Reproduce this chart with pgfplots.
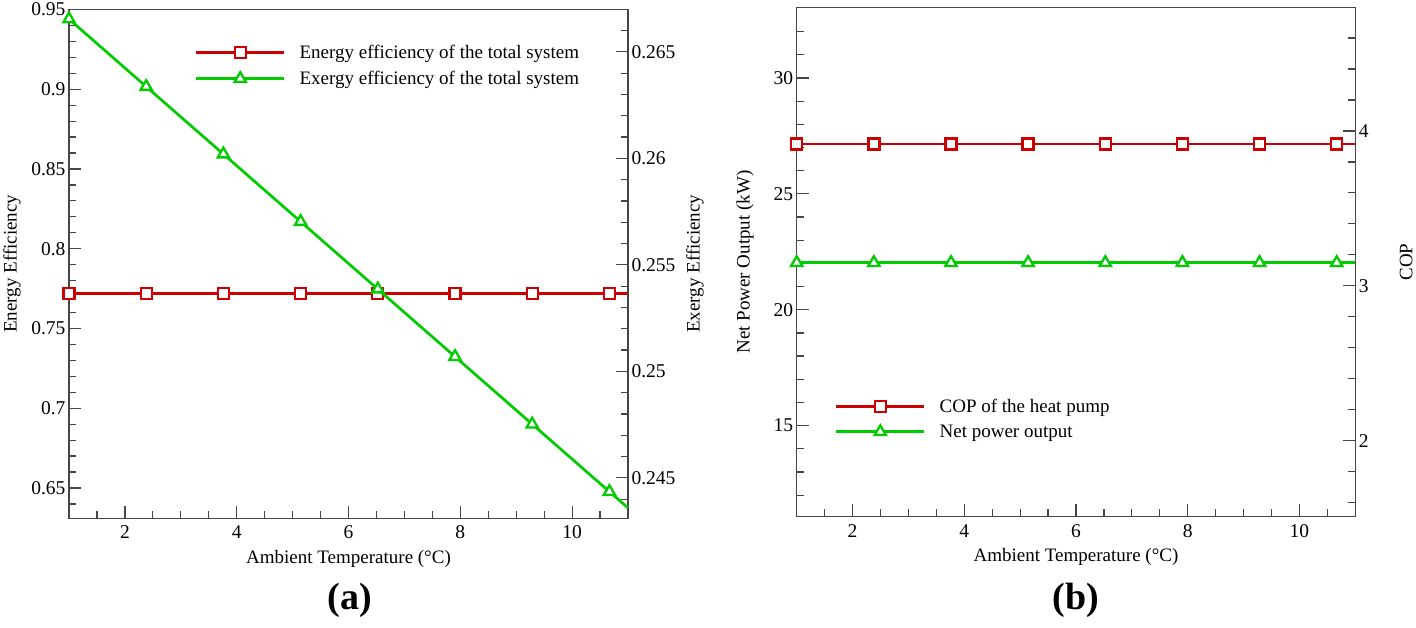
\documentclass[border=0pt]{standalone}
\usepackage{fontspec}
\setmainfont{Liberation Serif}
\usepackage{pgfplots}
\pgfplotsset{compat=1.18}
\definecolor{cred}{RGB}{204,0,0}
\definecolor{cgreen}{RGB}{0,204,0}
\definecolor{axc}{RGB}{70,70,70}
\pgfplotsset{
  common/.style={
    scale only axis, anchor=south west, clip=false,
    xmin=1, xmax=11,
    xtick={2,4,6,8,10},
    minor xtick={1.5,2.5,3,3.5,4.5,5,5.5,6.5,7,7.5,8.5,9,9.5,10.5},
    tick align=inside,
    axis line style={axc, line width=1.4pt},
    every tick/.style={axc, line width=1.2pt},
    major tick length=12.5pt, minor tick length=7.5pt,
    tick label style={font=\fontsize{19.5}{22}\selectfont},
    xticklabel style={yshift=-4pt},
    /pgf/number format/assume math mode=true,
    label style={font=\fontsize{19}{22}\selectfont},
    legend cell align=left,
    legend image code/.code={\draw[mark repeat=2,mark phase=2,##1] plot coordinates {(0pt,0pt) (44pt,0pt) (88pt,0pt)};},
  },
  redline/.style={color=cred, line width=2.7pt, mark=square*, mark options={fill=white, line width=2.3pt, solid}, mark size=5.5pt},
  greenline/.style={color=cgreen, line width=2.7pt, mark=triangle*, mark options={fill=white, line width=2.3pt, solid}, mark size=6.5pt},
}
\begin{document}
\begin{tikzpicture}[x=1pt,y=1pt]
\path[use as bounding box] (0,0) rectangle (1416,627);
% ---------- panel (a) left axis ----------
\begin{axis}[common, at={(69pt,108.7pt)}, width=559pt, height=509pt,
  ymin=0.631, ymax=0.9501,
  ytick={0.65,0.7,0.75,0.8,0.85,0.9,0.95},
  minor ytick={0.64,0.66,0.67,0.68,0.69,0.71,0.72,0.73,0.74,0.76,0.77,0.78,0.79,0.81,0.82,0.83,0.84,0.86,0.87,0.88,0.89,0.91,0.92,0.93,0.94},
  xtick pos=bottom, ytick pos=left,
  xlabel={Ambient Temperature (°C)}, ylabel={Energy Efficiency},
  xlabel style={at={(axis description cs:0.5,-0.079)}, anchor=center},
  ylabel style={at={(axis description cs:-0.102,0.5)}, anchor=center},
]
\addplot[redline, mark indices={1,2,3,4,5,6,7,8}, forget plot] coordinates {
(1,0.772) (2.381,0.772) (3.762,0.772) (5.143,0.772) (6.524,0.772) (7.905,0.772) (9.286,0.772) (10.667,0.772) (11,0.772)};
\end{axis}
% ---------- panel (a) right axis ----------
\begin{axis}[common, at={(69pt,108.7pt)}, width=559pt, height=509pt,
  axis x line=none, axis y line*=right,
  ymin=0.2431, ymax=0.2670,
  ytick={0.245,0.25,0.255,0.26,0.265},
  minor ytick={0.244,0.246,0.247,0.248,0.249,0.251,0.252,0.253,0.254,0.256,0.257,0.258,0.259,0.261,0.262,0.263,0.264,0.266},
  scaled y ticks=false,
  yticklabel style={/pgf/number format/fixed, /pgf/number format/precision=3},
  ylabel={Exergy Efficiency},
  ylabel style={at={(axis description cs:1.12,0.5)}, anchor=center},
  legend style={at={(axis description cs:0.2252,0.933)}, anchor=north west, draw=none, fill=none,
    inner sep=0pt, outer sep=0pt, font=\fontsize{19}{22}\selectfont, row sep=7pt,
    /tikz/every odd column/.append style={column sep=12pt}},
]
\addplot[greenline, mark indices={1,2,3,4,5,6,7,8}, forget plot] coordinates {
(1,0.26654) (2.381,0.26337) (3.762,0.26020) (5.143,0.25703) (6.524,0.25386) (7.905,0.25069) (9.286,0.24752) (10.667,0.24435) (11,0.24359)};
\addlegendimage{redline}
\addlegendentry{Energy efficiency of the total system}
\addlegendimage{greenline}
\addlegendentry{Exergy efficiency of the total system}
\end{axis}
% ---------- panel (b) left axis ----------
\begin{axis}[common, at={(796.7pt,110.3pt)}, width=558.6pt, height=509.4pt,
  ymin=11.07, ymax=33.05,
  ytick={15,20,25,30},
  minor ytick={12,13,14,16,17,18,19,21,22,23,24,26,27,28,29,31,32},
  xtick pos=bottom, ytick pos=left,
  xlabel={Ambient Temperature (°C)}, ylabel={Net Power Output (kW)},
  xlabel style={at={(axis description cs:0.5,-0.079)}, anchor=center},
  ylabel style={at={(axis description cs:-0.0926,0.5)}, anchor=center},
]
\addplot[greenline, mark indices={1,2,3,4,5,6,7,8}, forget plot] coordinates {
(1,22.03) (2.381,22.03) (3.762,22.03) (5.143,22.03) (6.524,22.03) (7.905,22.03) (9.286,22.03) (10.667,22.03) (11,22.03)};
\end{axis}
% ---------- panel (b) right axis ----------
\begin{axis}[common, at={(796.7pt,110.3pt)}, width=558.6pt, height=509.4pt,
  axis x line=none, axis y line*=right,
  ymin=1.51, ymax=4.798,
  ytick={2,3,4},
  minor ytick={1.6,1.8,2.2,2.4,2.6,2.8,3.2,3.4,3.6,3.8,4.2,4.4,4.6},
  ylabel={COP},
  ylabel style={at={(axis description cs:1.091,0.5)}, anchor=center},
  legend style={at={(axis description cs:0.0684,0.235)}, anchor=north west, draw=none, fill=none,
    inner sep=0pt, outer sep=0pt, font=\fontsize{19}{22}\selectfont, row sep=7pt,
    /tikz/every odd column/.append style={column sep=12pt}},
]
\addplot[redline, mark indices={1,2,3,4,5,6,7,8}, forget plot] coordinates {
(1,3.915) (2.381,3.915) (3.762,3.915) (5.143,3.915) (6.524,3.915) (7.905,3.915) (9.286,3.915) (10.667,3.915) (11,3.915)};
\addlegendimage{redline}
\addlegendentry{COP of the heat pump}
\addlegendimage{greenline}
\addlegendentry{Net power output}
\end{axis}
\node[font=\bfseries\fontsize{38}{42}\selectfont] at (350,27) {(a)};
\node[font=\bfseries\fontsize{38}{42}\selectfont] at (1076,27) {(b)};
\end{tikzpicture}
\end{document}
